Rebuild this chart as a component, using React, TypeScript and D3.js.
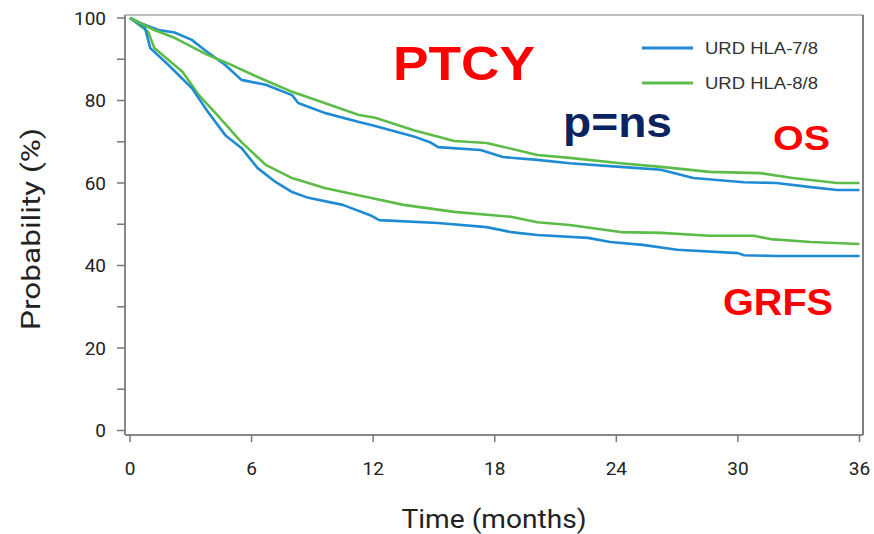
import React, { useRef, useEffect } from 'react';
import * as d3 from 'd3';

// time in months
const osBlueT = [0, 0.5, 1.4, 2.2, 3.05, 3.7, 4.7, 5.5, 6.7, 8.0, 8.3, 9.6, 11.3, 12.1, 14.0, 14.8, 15.2, 17.3, 18.4, 20.1, 21.7, 24.2, 26.2, 27.8, 30.3, 31.9, 33.6, 34.9, 36];
const osBlueP = [100, 98.8, 97.1, 96.5, 94.7, 92.2, 88.6, 85.0, 83.8, 81.3, 79.4, 77.0, 74.8, 73.8, 71.3, 69.9, 68.7, 68.0, 66.3, 65.6, 64.8, 63.9, 63.2, 61.2, 60.2, 60.0, 59.0, 58.3, 58.3];

const osGreenT = [0, 1.2, 2.2, 3.85, 4.7, 6.3, 8.0, 9.6, 11.3, 12.1, 14.0, 16.0, 17.6, 20.1, 21.7, 24.2, 26.2, 28.6, 31.1, 32.7, 34.9, 36];
const osGreenP = [100, 97.1, 95.2, 91.0, 89.3, 85.7, 82.1, 79.4, 76.5, 75.8, 72.8, 70.2, 69.7, 66.8, 66.1, 64.8, 63.9, 62.7, 62.4, 61.2, 60.0, 60.0];

const grfsBlueT = [0, 0.74, 1.0, 1.9, 3.05, 3.85, 4.7, 5.5, 6.3, 7.2, 8.0, 8.8, 10.5, 11.85, 12.3, 15.2, 17.6, 18.8, 20.1, 22.6, 23.7, 25.3, 27.0, 30.0, 30.3, 31.9, 36];
const grfsBlueP = [100, 97.6, 92.7, 88.6, 83.0, 77.2, 71.6, 68.5, 63.6, 60.2, 57.8, 56.4, 54.7, 52.2, 51.0, 50.3, 49.3, 48.1, 47.4, 46.7, 45.7, 45.0, 43.8, 43.0, 42.5, 42.3, 42.3];

const grfsGreenT = [0, 0.9, 1.2, 2.6, 3.4, 4.3, 5.5, 6.7, 8.0, 9.6, 11.85, 13.5, 16.0, 18.8, 20.1, 21.7, 24.2, 26.2, 28.6, 30.8, 31.6, 33.6, 36];
const grfsGreenP = [100, 96.6, 92.7, 86.9, 81.3, 76.5, 69.9, 64.4, 61.2, 58.8, 56.4, 54.7, 53.0, 51.8, 50.5, 49.8, 48.1, 47.9, 47.2, 47.2, 46.4, 45.7, 45.2];

const xTicks = [0, 6, 12, 18, 24, 30, 36];
const yTicks = [0, 20, 40, 60, 80, 100];
const yMinorTicks = [0, 10, 20, 30, 40, 50, 60, 70, 80, 90, 100];

const legendLabels = ['URD HLA-7/8', 'URD HLA-8/8'];
const BLUE = '#1f8bd3';
const GREEN = '#5cbc48';

export default function App() {
  const ref = useRef<SVGSVGElement>(null);

  useEffect(() => {
    const svg = d3.select(ref.current);
    svg.selectAll('*').remove();

    const x = d3.scaleLinear().domain([0, 36]).range([130, 859.5]);
    const y = d3.scaleLinear().domain([0, 100]).range([430.5, 18]);
    const left = 125, right = 863, top = 15, bottom = 435;

    // frame
    svg.append('line').attr('x1', left).attr('x2', right).attr('y1', top).attr('y2', top)
      .attr('stroke', '#aaa').attr('stroke-width', 1.5);
    svg.append('line').attr('x1', right).attr('x2', right).attr('y1', top).attr('y2', bottom)
      .attr('stroke', '#555').attr('stroke-width', 1.5);
    svg.append('line').attr('x1', left).attr('x2', left).attr('y1', top).attr('y2', bottom)
      .attr('stroke', '#888').attr('stroke-width', 2);
    svg.append('line').attr('x1', left).attr('x2', right).attr('y1', bottom).attr('y2', bottom)
      .attr('stroke', '#888').attr('stroke-width', 2);

    // y ticks
    svg.selectAll('.ytick').data(yMinorTicks).enter().append('line')
      .attr('x1', 117).attr('x2', left).attr('y1', d => y(d)).attr('y2', d => y(d))
      .attr('stroke', '#777').attr('stroke-width', 1.5);
    svg.selectAll('.ylab').data(yTicks).enter().append('text')
      .attr('x', 106).attr('y', d => y(d)).attr('dy', '0.36em')
      .attr('text-anchor', 'end')
      .style('font-family', 'Roboto, Arial, sans-serif').style('font-size', '19px')
      .attr('fill', '#222').text(d => d);

    // x ticks
    svg.selectAll('.xtick').data(xTicks).enter().append('line')
      .attr('x1', d => x(d)).attr('x2', d => x(d)).attr('y1', bottom).attr('y2', 442)
      .attr('stroke', '#777').attr('stroke-width', 1.5);
    svg.selectAll('.xlab').data(xTicks).enter().append('text')
      .attr('x', d => x(d)).attr('y', 475).attr('text-anchor', 'middle')
      .style('font-family', 'Roboto, Arial, sans-serif').style('font-size', '19px')
      .attr('fill', '#222').text(d => d);

    // axis titles
    svg.append('text')
      .attr('transform', 'translate(40,229) rotate(-90)')
      .attr('text-anchor', 'middle')
      .attr('textLength', 202).attr('lengthAdjust', 'spacingAndGlyphs')
      .style('font-family', 'Roboto, Arial, sans-serif').style('font-size', '26px')
      .attr('fill', '#222').text('Probability (%)');
    svg.append('text')
      .attr('x', 494).attr('y', 528).attr('text-anchor', 'middle')
      .attr('textLength', 185).attr('lengthAdjust', 'spacingAndGlyphs')
      .style('font-family', 'Roboto, Arial, sans-serif').style('font-size', '26px')
      .attr('fill', '#222').text('Time (months)');

    // curves
    const line = d3.line<[number, number]>()
      .x(d => x(d[0])).y(d => y(d[1])).curve(d3.curveLinear);
    const series: [number[], number[], string][] = [
      [grfsGreenT, grfsGreenP, GREEN],
      [grfsBlueT, grfsBlueP, BLUE],
      [osBlueT, osBlueP, BLUE],
      [osGreenT, osGreenP, GREEN],
    ];
    series.forEach(([t, p, c]) => {
      svg.append('path')
        .attr('d', line(t.map((v, i) => [v, p[i]] as [number, number])))
        .attr('fill', 'none').attr('stroke', c).attr('stroke-width', 2.6)
        .attr('stroke-linejoin', 'round');
    });

    // legend
    const legendY = [48, 83];
    legendLabels.forEach((lab, i) => {
      svg.append('line').attr('x1', 642).attr('x2', 693)
        .attr('y1', legendY[i]).attr('y2', legendY[i])
        .attr('stroke', i === 0 ? BLUE : GREEN).attr('stroke-width', 3);
      svg.append('text').attr('x', 705).attr('y', legendY[i]).attr('dy', '0.36em')
        .attr('textLength', 113).attr('lengthAdjust', 'spacingAndGlyphs')
        .style('font-family', 'Arial, "Liberation Sans", sans-serif').style('font-size', '17px')
        .attr('fill', '#333').text(lab);
    });

    // annotations
    const bold = 'Arial, "Liberation Sans", sans-serif';
    const ann = (txt: string, xx: number, yy: number, size: number, len: number, col: string) =>
      svg.append('text').attr('x', xx).attr('y', yy)
        .attr('textLength', len).attr('lengthAdjust', 'spacingAndGlyphs')
        .style('font-family', bold).style('font-weight', 'bold').style('font-size', `${size}px`)
        .attr('fill', col).text(txt);
    ann('PTCY', 393, 80, 49, 142, '#ff0000');
    ann('p=ns', 563, 137, 43, 109, '#0b2360');
    ann('OS', 773, 150, 35, 57, '#ff0000');
    ann('GRFS', 723, 315, 37, 110, '#ff0000');
  }, []);

  return (
    <svg ref={ref} width={874} height={534}
      style={{ position: 'absolute', left: 0, top: 0, background: '#fff' }} />
  );
}
